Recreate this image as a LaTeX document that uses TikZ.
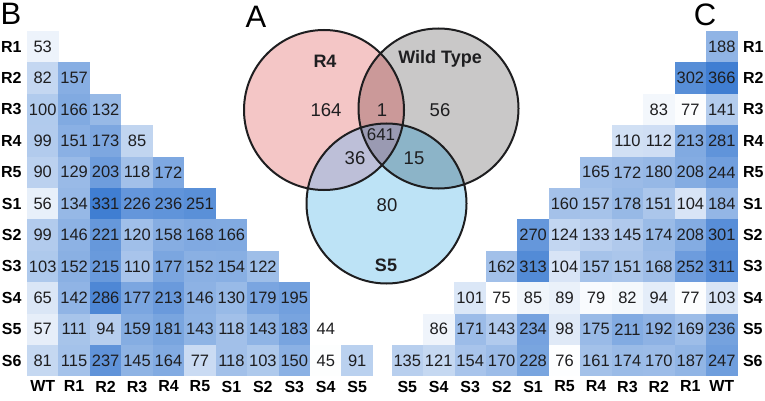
\documentclass[tikz,border=0pt]{standalone}
\usepackage{fontspec}
\setmainfont{Liberation Sans}
\usetikzlibrary{positioning}
\definecolor{cellblue}{RGB}{64,126,210}
\definecolor{inktext}{RGB}{30,30,32}
\definecolor{rfourpink}{RGB}{244,198,198}
\definecolor{wtgray}{RGB}{201,200,200}
\definecolor{sfiveblue}{RGB}{189,227,246}
\definecolor{rwmix}{RGB}{203,153,153}
\definecolor{rsmix}{RGB}{189,191,216}
\definecolor{wsmix}{RGB}{140,180,200}
\definecolor{allmix}{RGB}{154,154,178}
\newcommand{\rfourcirc}{(324,110) circle[radius=80pt]}
\newcommand{\wtcirc}{(438.5,108.5) circle[radius=80pt]}
\newcommand{\sfivecirc}{(386.5,203.5) circle[radius=80pt]}

\begin{document}
\begin{tikzpicture}[x=1pt,y=-1pt,
  cell/.style={minimum width=31.6pt,minimum height=31.5pt,inner sep=0pt,
    text=inktext,font=\fontsize{16.5}{19}\selectfont},
  lbl/.style={inner sep=0pt,font=\fontsize{16}{19}\selectfont\bfseries},
  panel/.style={inner sep=0pt,font=\fontsize{31}{34}\selectfont},
  vnum/.style={inner sep=0pt,text=inktext,font=\fontsize{18.5}{22}\selectfont},
  vlbl/.style={inner sep=0pt,text=inktext,font=\fontsize{18}{22}\selectfont\bfseries}]
  \useasboundingbox (0,0) rectangle (765,401);

  % panel B
  \foreach \row [count=\i from 0] in {{53},{82,157},{100,166,132},{99,151,173,85},
      {90,129,203,118,172},{56,134,331,226,236,251},{99,146,221,120,158,168,166},
      {103,152,215,110,177,152,154,122},{65,142,286,177,213,146,130,179,195},
      {57,111,94,159,181,143,118,143,183,44},{81,115,237,145,164,77,118,103,150,45,91}}
  {
    \foreach \v [count=\j from 0] in \row {
      \pgfmathsetmacro\shade{max(0,100*ln(\v/44)/ln(331/44))}
      \node[cell,fill=cellblue!\shade!white] (b-\i-\j) at (42.7+31.45*\j,46.7+31.4*\i) {\v};
    }
  }
  \foreach \lab [count=\i from 0] in {R1,R2,R3,R4,R5,S1,S2,S3,S4,S5,S6}
    \node[lbl,left=5pt of b-\i-0] (by-\i) {\lab};
  \foreach \lab [count=\j from 0] in {WT,R1,R2,R3,R4,R5,S1,S2,S3,S4,S5}
    \node[lbl,below=4pt of b-10-\j] (bx-\j) {\lab};
  \node[panel] (pb) at (11,14) {B};

  % panel C (columns counted from the right)
  \foreach \row [count=\i from 0] in {{188},{366,302},{141,77,83},{281,213,112,110},
      {244,208,180,172,165},{184,104,151,178,157,160},{301,208,174,145,133,124,270},
      {311,252,168,151,157,104,313,162},{103,77,94,82,79,89,85,75,101},
      {236,169,192,211,175,98,234,143,171,86},{247,187,170,174,161,76,228,170,154,121,135}}
  {
    \foreach \v [count=\j from 0] in \row {
      \pgfmathsetmacro\shade{max(0,100*ln(\v/75)/ln(366/75))}
      \node[cell,fill=cellblue!\shade!white] (c-\i-\j) at (721.8-31.45*\j,46.7+31.4*\i) {\v};
    }
  }
  \foreach \lab [count=\i from 0] in {R1,R2,R3,R4,R5,S1,S2,S3,S4,S5,S6}
    \node[lbl,right=5pt of c-\i-0] (cy-\i) {\lab};
  \foreach \lab [count=\j from 0] in {WT,R1,R2,R3,R4,R5,S1,S2,S3,S4,S5}
    \node[lbl,below=4pt of c-10-\j] (cx-\j) {\lab};
  \node[panel] (pc) at (705,15) {C};

  % panel A
  \fill[rfourpink] \rfourcirc;
  \fill[wtgray] \wtcirc;
  \fill[sfiveblue] \sfivecirc;
  \begin{scope}
    \clip \rfourcirc;
    \fill[rwmix] \wtcirc;
    \fill[rsmix] \sfivecirc;
  \end{scope}
  \begin{scope}
    \clip \wtcirc;
    \fill[wsmix] \sfivecirc;
  \end{scope}
  \begin{scope}
    \clip \rfourcirc;
    \clip \wtcirc;
    \fill[allmix] \sfivecirc;
  \end{scope}
  \draw[line width=2pt,draw=inktext] \rfourcirc \wtcirc \sfivecirc;
  \node[vlbl] (r4) at (325,61) {R4};
  \node[vlbl] (wt) at (440,59) {Wild Type};
  \node[vlbl] (s5) at (386,265) {S5};
  \node[vnum] (n164) at (326,110) {164};
  \node[vnum] (n1) at (382,110) {1};
  \node[vnum] (n56) at (440,110) {56};
  \node[vnum,font=\fontsize{17}{20}\selectfont] (n641) at (381,135) {641};
  \node[vnum] (n36) at (355,158) {36};
  \node[vnum] (n15) at (414,158) {15};
  \node[vnum] (n80) at (387,205) {80};
  \node[panel] (pa) at (256,17) {A};
\end{tikzpicture}
\end{document}
